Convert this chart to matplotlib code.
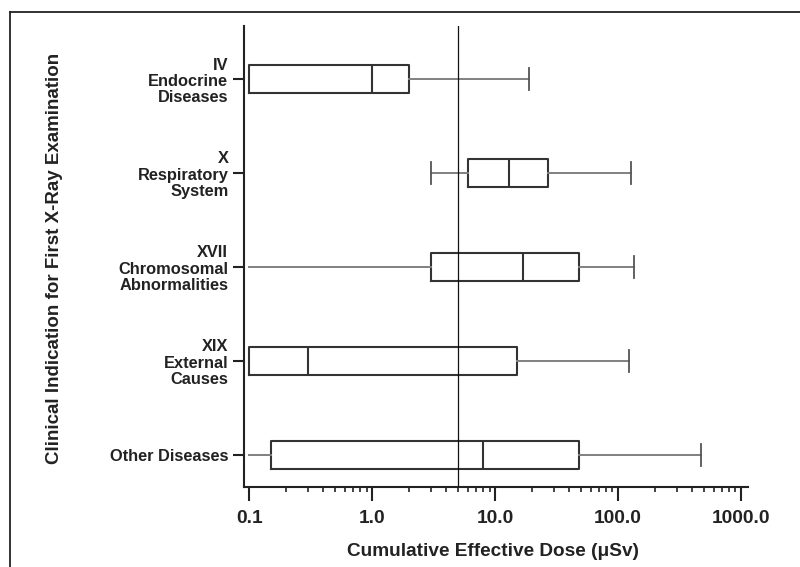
import matplotlib
matplotlib.use("Agg")
import matplotlib.pyplot as plt
from matplotlib.lines import Line2D
from matplotlib.ticker import FixedLocator, LogLocator, NullFormatter

plt.rcParams['font.family'] = ['Liberation Sans', 'DejaVu Sans']
plt.rcParams['font.weight'] = 'bold'

# Data (top to bottom as drawn)
categories = ["IV\nEndocrine\nDiseases",
              "X\nRespiratory\nSystem",
              "XVII\nChromosomal\nAbnormalities",
              "XIX\nExternal\nCauses",
              "Other Diseases"]
whisker_low = [0.1, 3.0, 0.1, 0.1, 0.1]
q1 = [0.1, 6.0, 3.0, 0.1, 0.15]
median = [1.0, 13.0, 17.0, 0.3, 8.0]
q3 = [2.0, 27.0, 48.0, 15.0, 48.0]
whisker_high = [19.0, 127.0, 136.0, 123.0, 470.0]
reference_dose = 5.0
xtick_values = [0.1, 1.0, 10.0, 100.0, 1000.0]
xtick_labels = ["0.1", "1.0", "10.0", "100.0", "1000.0"]

fig = plt.figure(figsize=(8.0, 5.67), dpi=100)
ax = fig.add_axes([244.3/800, 80.3/567, 504/800, 460.7/567])

n = len(categories)
positions = list(range(n - 1, -1, -1))
stats = []
for i in range(n):
    stats.append(dict(whislo=whisker_low[i], q1=q1[i], med=median[i],
                      q3=q3[i], whishi=whisker_high[i], fliers=[]))

art = ax.bxp(stats, positions=positions, vert=False, widths=0.30,
             capwidths=0.23, showfliers=False, patch_artist=False,
             boxprops=dict(color='#333333', linewidth=1.5),
             medianprops=dict(color='#333333', linewidth=1.5),
             whiskerprops=dict(color='#808080', linewidth=1.4),
             capprops=dict(color='#555555', linewidth=1.3))

# hide low caps when whisker reaches the axis minimum
for i in range(n):
    if whisker_low[i] <= min(whisker_low):
        art['caps'][2*i].set_visible(False)

ax.axvline(reference_dose, color='#111111', linewidth=0.9, zorder=3)

ax.set_xscale('log')
ax.set_xlim(0.0911, 1147)
ax.set_ylim(-0.337, n - 1 + 0.567)

ax.xaxis.set_major_locator(FixedLocator(xtick_values))
ax.set_xticklabels(xtick_labels)
ax.xaxis.set_minor_locator(LogLocator(base=10, subs=range(2, 10)))
ax.xaxis.set_minor_formatter(NullFormatter())

ax.set_yticks(positions)
ylabels = ax.set_yticklabels(categories)
for t in ylabels:
    t.set_linespacing(1.12)
    t.set_multialignment('right')

for s in ['top', 'right']:
    ax.spines[s].set_visible(False)
for s in ['left', 'bottom']:
    ax.spines[s].set_linewidth(1.5)
    ax.spines[s].set_color('#222222')

ax.tick_params(axis='x', which='major', length=10, width=1.5, colors='#222222',
               labelsize=13.8, pad=7, labelcolor='#222222')
ax.tick_params(axis='x', which='minor', length=3.8, width=1.2, colors='#222222')
ax.tick_params(axis='y', which='major', length=8, width=1.5, colors='#222222',
               labelsize=11.8, pad=3.5, labelcolor='#222222')

fig.text(493.5/800, 1 - 552/567, "Cumulative Effective Dose (\u03bcSv)",
         ha='center', va='center', fontsize=13.7, fontweight='bold', color='#222222')
fig.text(55/800, 1 - 258/567, "Clinical Indication for First X-Ray Examination",
         rotation=90, ha='center', va='center', fontsize=13.5, fontweight='bold',
         color='#222222')

# outer frame (top and left edges)
fig.add_artist(Line2D([10/800, 1.0], [1 - 12/567, 1 - 12/567], transform=fig.transFigure,
                      color='#222222', linewidth=1.3))
fig.add_artist(Line2D([10/800, 10/800], [0.0, 1 - 12/567], transform=fig.transFigure,
                      color='#222222', linewidth=1.3))

fig.savefig("out.png", dpi=100)
